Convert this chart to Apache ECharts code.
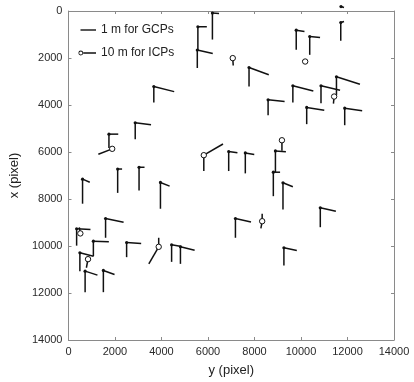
<!DOCTYPE html>
<html>
<head>
<meta charset="utf-8">
<script src="https://cdn.jsdelivr.net/npm/echarts@6/dist/echarts.min.js"></script>
<style>
  html, body { margin: 0; padding: 0; background: #fff; }
  #chart { width: 414px; height: 382px; }
</style>
</head>
<body>
<div id="chart"></div>
<script>
// horizontal axis is "y (pixel)", vertical axis is "x (pixel)" (image convention)
const axisTicks = [0, 2000, 4000, 6000, 8000, 10000, 12000, 14000];

// GCPs: point position, vertical leg length, end offset of the side leg
const gcpY = [6190, 5565, 5540, 3670, 2870, 1740, 6890, 2115, 3035, 605, 3955, 350, 1595, 1070, 490, 715, 1500, 2500, 4435, 4815, 7180, 9225, 10830, 9265, 8810, 8900, 7605, 11710, 9795, 10375, 7765, 9650, 10860, 11525, 8585, 10245, 11880, 11720];
const gcpX = [85, 670, 1660, 3215, 4755, 5240, 5980, 6725, 6650, 7155, 7295, 9265, 8830, 9795, 10290, 11070, 11040, 9850, 9950, 10035, 8830, 7310, 8375, 10075, 6860, 5955, 6040, 490, 815, 1085, 2405, 3185, 3185, 2800, 3780, 4105, 4135, -190];
const gcpDown = [1130, 980, 765, 680, 700, 595, 830, 1015, 985, 1045, 1120, 720, 820, 640, 785, 895, 925, 625, 725, 725, 820, 1135, 825, 755, 1020, 895, 870, 780, 835, 780, 810, 710, 740, 785, 655, 710, 725, 0];
const gcpSideY = [285, 385, 665, 875, 680, 400, 375, 190, 235, 310, 395, 595, 775, 665, 585, 530, 480, 625, 425, 610, 670, 425, 670, 555, 290, 450, 385, 140, 355, 445, 850, 880, 820, 1010, 710, 755, 750, 130];
const gcpSideX = [20, 0, 150, 215, 85, 0, 55, 0, 0, 130, 155, 30, 155, 25, 145, 170, 170, 45, 70, 145, 150, 170, 145, 115, 0, 35, 65, -45, 55, 45, 310, 215, 185, 315, 70, 115, 110, 40];

// ICPs: point position and one or two leg end offsets
const icpY = [7065, 1880, 5820, 510, 840, 3880, 8330, 9180, 10180, 11425];
const icpX = [2005, 5865, 6135, 9465, 10560, 10035, 8945, 5500, 2150, 3640];
const icpDy = [20, -595, 825, -45, -70, -425, -55, 0, -130, -30];
const icpDx = [315, 230, -475, -255, 365, 725, 310, 445, -30, 300];
const icpDy2 = [0, 0, 0, 0, 0, 0, 0, 0, 0, 0];
const icpDx2 = [0, 0, 670, 0, 0, -385, -315, 0, 0, 0];

const ink = '#111';
const font = 'Liberation Sans, Arial, sans-serif';

const gcpData = gcpY.map((y, i) => [y, gcpX[i], gcpDown[i], gcpSideY[i], gcpSideX[i]]);
const icpData = icpY.map((y, i) => [y, icpX[i], icpDy[i], icpDx[i], icpDy2[i], icpDx2[i]]);

function seg(p, q) {
  return {
    type: 'line',
    shape: { x1: p[0], y1: p[1], x2: q[0], y2: q[1] },
    style: { stroke: ink, lineWidth: 1.5 }
  };
}

function renderGcp(params, api) {
  const y = api.value(0), x = api.value(1);
  const p = api.coord([y, x]);
  const a = api.coord([y, x + api.value(2)]);
  const b = api.coord([y + api.value(3), x + api.value(4)]);
  return {
    type: 'group',
    children: [
      seg(p, a),
      seg(p, b),
      { type: 'circle', shape: { cx: p[0], cy: p[1], r: 1.6 }, style: { fill: ink } }
    ]
  };
}

function renderIcp(params, api) {
  const y = api.value(0), x = api.value(1);
  const p = api.coord([y, x]);
  const a = api.coord([y + api.value(2), x + api.value(3)]);
  const children = [seg(p, a)];
  if (api.value(4) !== 0 || api.value(5) !== 0) {
    children.push(seg(p, api.coord([y + api.value(4), x + api.value(5)])));
  }
  children.push({
    type: 'circle',
    shape: { cx: p[0], cy: p[1], r: 2.7 },
    style: { fill: '#fff', stroke: ink, lineWidth: 1 }
  });
  return { type: 'group', children: children };
}

const axisBase = {
  type: 'value',
  min: axisTicks[0],
  max: axisTicks[axisTicks.length - 1],
  interval: axisTicks[1] - axisTicks[0],
  splitLine: { show: false },
  axisLine: { show: true, onZero: false, lineStyle: { color: '#8a8a8a', width: 1 } },
  axisTick: { show: true, inside: true, length: 3, lineStyle: { color: '#8a8a8a' } },
  axisLabel: {
    show: true, fontSize: 11, color: '#2a2a2a', fontFamily: font, margin: 6,
    formatter: (v) => String(v)
  }
};

const chart = echarts.init(document.getElementById('chart'), null, { renderer: 'canvas' });
chart.setOption({
  animation: false,
  backgroundColor: '#fff',
  grid: { left: 64, top: 11, width: 330, height: 330 },
  legend: {
    left: 73,
    top: 18,
    orient: 'vertical',
    itemWidth: 18,
    itemHeight: 6,
    itemGap: 9,
    textStyle: { fontSize: 12, color: '#222', fontFamily: font, lineHeight: 14 },
    data: [
      {
        name: '1 m for GCPs',
        icon: 'path://M0,0 M180,60 M25,23 L180,23 L180,37 L25,37 Z',
        itemStyle: { color: ink }
      },
      {
        name: '10 m for ICPs',
        icon: 'path://M0,0 M180,60 M4,30 A24,24 0 1,0 52,30 A24,24 0 1,0 4,30 Z M12,30 A16,16 0 1,1 44,30 A16,16 0 1,1 12,30 Z M52,23 L180,23 L180,37 L52,37 Z',
        itemStyle: { color: ink }
      }
    ]
  },
  xAxis: [
    Object.assign({}, axisBase, {
      position: 'bottom',
      name: 'y (pixel)',
      nameLocation: 'middle',
      nameGap: 24,
      nameTextStyle: { fontSize: 13, color: '#222', fontFamily: font }
    }),
    Object.assign({}, axisBase, { position: 'top', axisLabel: { show: false } })
  ],
  yAxis: [
    Object.assign({}, axisBase, {
      position: 'left',
      inverse: true,
      name: 'x (pixel)',
      nameLocation: 'middle',
      nameGap: 39,
      nameRotate: 90,
      nameTextStyle: { fontSize: 13, color: '#222', fontFamily: font }
    }),
    Object.assign({}, axisBase, { position: 'right', inverse: true, axisLabel: { show: false } })
  ],
  series: [
    {
      name: '1 m for GCPs',
      type: 'custom',
      xAxisIndex: 0,
      yAxisIndex: 0,
      renderItem: renderGcp,
      encode: { x: 0, y: 1 },
      itemStyle: { color: ink },
      data: gcpData
    },
    {
      name: '10 m for ICPs',
      type: 'custom',
      xAxisIndex: 0,
      yAxisIndex: 0,
      renderItem: renderIcp,
      encode: { x: 0, y: 1 },
      itemStyle: { color: ink },
      data: icpData
    }
  ]
});
</script>
</body>
</html>
